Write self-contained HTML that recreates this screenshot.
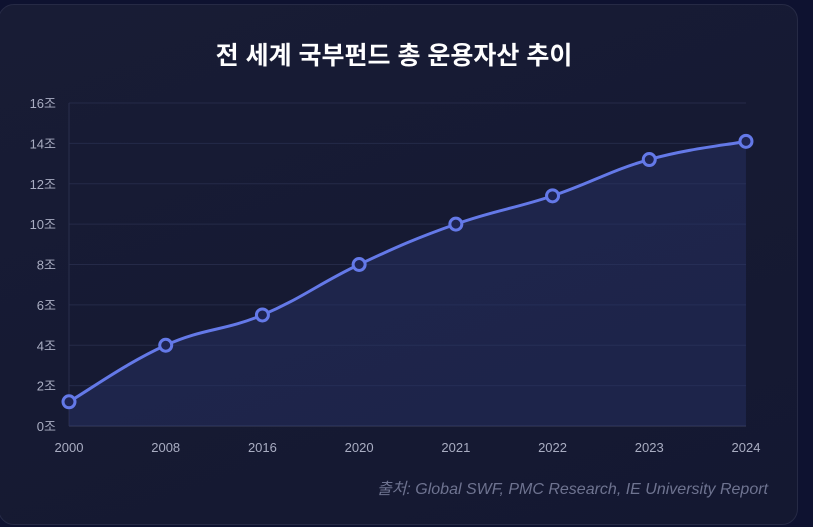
<!DOCTYPE html>
<html><head><meta charset="utf-8"><style>
body{margin:0;width:813px;height:527px;background:#0e1230;overflow:hidden;font-family:"Liberation Sans","Noto Sans CJK KR",sans-serif}
.card{position:absolute;left:-2px;top:4px;width:800px;height:521px;border-radius:16px;background:linear-gradient(160deg,#181c35,#141831);border:1px solid #262a45;box-sizing:border-box}
</style></head><body>
<div class="card"></div>
<svg id="s" width="813" height="527" style="position:absolute;left:0;top:0">
<text x="394" y="64" fill="#fff" font-size="25" font-weight="bold" text-anchor="middle" font-family="Liberation Sans,Noto Sans CJK KR,sans-serif">전 세계 국부펀드 총 운용자산 추이</text>
<g id="grid"></g>
<path id="area" fill="#283368" fill-opacity="0.45"/>
<path id="line" fill="none" stroke="#6479e8" stroke-width="3"/>
<g id="pts"></g>
<text x="768" y="494" fill="#6e7390" font-size="16" font-style="italic" text-anchor="end" font-family="Liberation Sans,Noto Sans CJK KR,sans-serif">출처: Global SWF, PMC Research, IE University Report</text>
</svg>
<script>
var ns="http://www.w3.org/2000/svg";
function el(p,t,a,txt){var e=document.createElementNS(ns,t);for(var k in a)e.setAttribute(k,a[k]);if(txt)e.textContent=txt;document.getElementById(p).appendChild(e);}
var y0=426,sc=(426-103)/16;
for(var v=0;v<=16;v+=2){var y=y0-v*sc;el("grid","line",{x1:69,x2:746,y1:y,y2:y,stroke:v==0?"#3a3f5c":"#252a48","stroke-width":1});
el("grid","text",{x:56,y:y+5,fill:"#a9adc2","font-size":13,"text-anchor":"end"},v+"조");}
el("grid","line",{x1:69,x2:69,y1:103,y2:426,stroke:"#2a2f4d"});
var yrs=["2000","2008","2016","2020","2021","2022","2023","2024"],vals=[1.2,4,5.5,8,10,11.4,13.2,14.1];
var P=vals.map(function(v,i){return[69+i*96.71,y0-v*sc];});
yrs.forEach(function(t,i){el("grid","text",{x:P[i][0],y:452,fill:"#a9adc2","font-size":13,"text-anchor":"middle"},t);});
var d="M"+P[0][0]+","+P[0][1];
for(var i=0;i<P.length-1;i++){var p0=P[Math.max(i-1,0)],p1=P[i],p2=P[i+1],p3=P[Math.min(i+2,P.length-1)],t=0.2;
d+=" C"+(p1[0]+(p2[0]-p0[0])*t)+","+(p1[1]+(p2[1]-p0[1])*t)+" "+(p2[0]-(p3[0]-p1[0])*t)+","+(p2[1]-(p3[1]-p1[1])*t)+" "+p2[0]+","+p2[1];}
document.getElementById("line").setAttribute("d",d);
document.getElementById("area").setAttribute("d",d+" L746,426 L69,426Z");
P.forEach(function(p){el("pts","circle",{cx:p[0],cy:p[1],r:6,fill:"#1e2452",stroke:"#6479e8","stroke-width":3});});
</script>
</body></html>
